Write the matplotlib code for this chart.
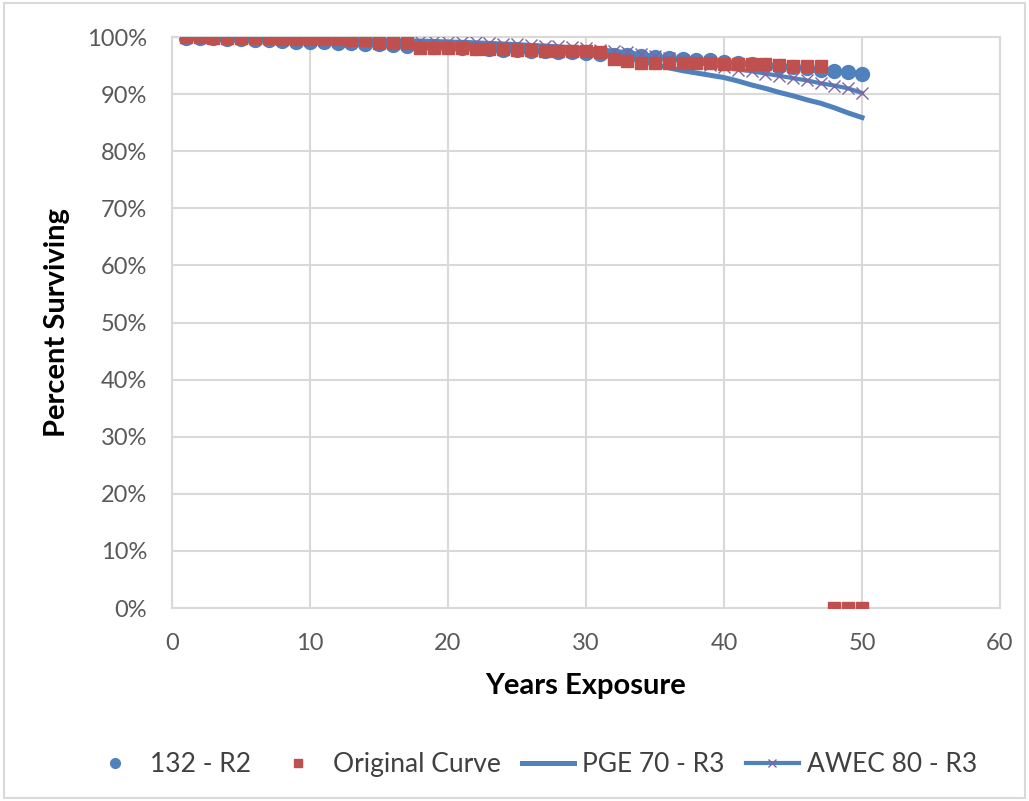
import matplotlib
matplotlib.use("Agg")
import matplotlib.pyplot as plt
from matplotlib.ticker import FuncFormatter, MultipleLocator
from matplotlib.patches import Rectangle

plt.rcParams['font.family'] = ['Lato', 'DejaVu Sans']

# years of exposure
years = list(range(1, 51))

# 132 - R2 (percent surviving)
r132 = [99.9, 99.8, 99.8, 99.7, 99.6, 99.5, 99.4, 99.3, 99.2, 99.2,
        99.1, 99.0, 98.9, 98.8, 98.7, 98.6, 98.5, 98.4, 98.3, 98.2,
        98.1, 98.0, 97.9, 97.8, 97.7, 97.6, 97.5, 97.4, 97.3, 97.2,
        97.0, 96.9, 96.8, 96.7, 96.5, 96.4, 96.2, 96.0, 95.9, 95.7,
        95.5, 95.3, 95.1, 94.9, 94.7, 94.5, 94.3, 94.0, 93.8, 93.5]

# Original Curve
original = [100.0, 100.0, 99.9, 99.9, 99.8, 99.8, 99.8, 99.7, 99.7, 99.7,
            99.6, 99.6, 99.5, 99.5, 99.0, 99.0, 98.9, 98.1, 98.1, 98.0,
            98.0, 97.9, 97.9, 97.9, 97.8, 97.7, 97.6, 97.6, 97.6, 97.5,
            97.4, 96.2, 95.8, 95.5, 95.5, 95.5, 95.4, 95.4, 95.4, 95.3,
            95.3, 95.2, 95.2, 95.1, 95.0, 95.0, 95.0, 0.0, 0.0, 0.0]

# PGE 70 - R3
pge = [100.0, 99.95, 99.9, 99.85, 99.8, 99.75, 99.7, 99.6, 99.55, 99.5,
       99.4, 99.35, 99.3, 99.2, 99.1, 99.0, 98.9, 98.8, 98.7, 98.6,
       98.5, 98.4, 98.2, 98.1, 98.0, 97.8, 97.7, 97.5, 97.3, 97.1,
       96.9, 96.6, 96.3, 95.8, 95.2, 94.6, 94.1, 93.7, 93.3, 92.9,
       92.3, 91.6, 91.0, 90.3, 89.7, 89.0, 88.4, 87.6, 86.7, 85.9]

# AWEC 80 - R3
awec = [100.0, 100.0, 99.95, 99.9, 99.9, 99.85, 99.8, 99.8, 99.75, 99.7,
        99.7, 99.65, 99.6, 99.55, 99.5, 99.45, 99.4, 99.35, 99.3, 99.2,
        99.15, 99.05, 98.95, 98.85, 98.75, 98.6, 98.5, 98.35, 98.2, 98.0,
        97.8, 97.6, 97.3, 97.0, 96.7, 96.3, 95.9, 95.5, 95.1, 94.7,
        94.3, 94.0, 93.6, 93.2, 92.8, 92.4, 91.9, 91.5, 91.0, 90.2]

blue = '#4F81BD'
red = '#C0504D'
purple = '#8064A2'
grid_c = '#D9D9D9'

fig = plt.figure(figsize=(10.29, 8.01), dpi=100)
ax = fig.add_axes([0.1672, 0.2409, 0.8046, 0.7129])

ax.plot(years, r132, linestyle='none', marker='o', markersize=10,
        color=blue, label='132 - R2', zorder=2)
ax.plot(years, pge, color=blue, linewidth=3.6, label='PGE 70 - R3', zorder=3)
ax.plot(years, awec, color=blue, linewidth=3.0, marker='x', markersize=8.5,
        markeredgecolor=purple, markeredgewidth=1.0, label='AWEC 80 - R3', zorder=3)
ax.plot(years, original, linestyle='none', marker='s', markersize=8.5,
        color=red, label='Original Curve', zorder=4)

ax.set_xlim(0, 60)
ax.set_ylim(0, 100)
ax.xaxis.set_major_locator(MultipleLocator(10))
ax.yaxis.set_major_locator(MultipleLocator(10))
ax.yaxis.set_major_formatter(FuncFormatter(lambda v, p: f'{v:.0f}%'))
ax.grid(True, color=grid_c, linewidth=1.5)
ax.set_axisbelow(True)
for s in ax.spines.values():
    s.set_color(grid_c)
    s.set_linewidth(1.5)
ax.tick_params(length=0, labelsize=17, colors='#595959')
ax.tick_params(axis='x', pad=18)
ax.tick_params(axis='y', pad=18)

ax.set_xlabel('Years Exposure', fontsize=21, fontweight='bold', labelpad=14)
ax.set_ylabel('Percent Surviving', fontsize=21, fontweight='bold', labelpad=12)

handles, labels = ax.get_legend_handles_labels()
order = [0, 3, 1, 2]
fig.legend([handles[i] for i in order], [labels[i] for i in order],
           loc='center', bbox_to_anchor=(0.518, 0.045), ncol=4, frameon=False,
           fontsize=19, handlelength=2.0, handletextpad=0.3, columnspacing=0.8,
           labelcolor='#404040', markerscale=0.7)

fig.patches.append(Rectangle((0.004, 0.004), 0.992, 0.992, transform=fig.transFigure,
                             fill=False, edgecolor=grid_c, linewidth=1.5))

fig.savefig('out.png', dpi=100)
